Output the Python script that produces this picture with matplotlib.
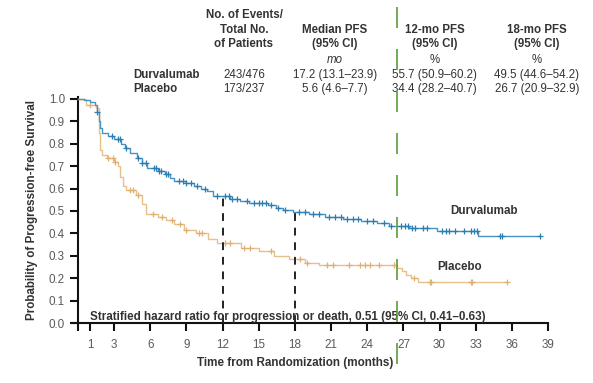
import numpy as np
import matplotlib
matplotlib.use("Agg")
import matplotlib.pyplot as plt
from matplotlib.lines import Line2D

plt.rcParams['font.family'] = ['Liberation Sans', 'DejaVu Sans']

# ---------------- data ----------------
durva_times = [0, 0.5, 1.0, 1.4, 1.6, 1.75, 1.85, 2.0, 2.5, 3.0, 3.6, 3.9, 4.3, 4.9, 5.3, 5.7,
               6.6, 7.2, 7.6, 8.0, 9.0, 9.6, 10.2, 10.7, 11.2, 12.6, 13.4, 14.2, 15.8, 16.4,
               17.0, 17.8, 19.2, 20.5, 22.0, 23.5, 24.8, 25.8, 27.5, 29.8, 33.2]
durva_surv = [1.0, 0.995, 0.985, 0.975, 0.94, 0.90, 0.87, 0.85, 0.835, 0.82, 0.80, 0.78, 0.76,
              0.735, 0.715, 0.69, 0.68, 0.665, 0.645, 0.632, 0.625, 0.61, 0.60, 0.59, 0.565,
              0.555, 0.545, 0.535, 0.525, 0.515, 0.505, 0.495, 0.485, 0.475, 0.466, 0.455,
              0.445, 0.435, 0.425, 0.41, 0.388]
durva_end = 38.3
durva_censor = [1.6, 2.8, 3.3, 3.5, 4.0, 5.0, 5.3, 5.6, 6.3, 6.5, 6.7, 6.9, 7.3, 7.5, 8.4, 8.7,
                9.0, 9.4, 9.9, 10.5, 11.5, 12.2, 12.5, 12.8, 13.2, 14.0, 14.6, 15.0, 15.3, 15.6,
                16.0, 16.6, 17.2, 18.3, 18.8, 19.5, 20.0, 20.8, 21.3, 21.8, 22.3, 22.8, 23.2,
                24.0, 24.5, 25.4, 26.0, 26.8, 27.1, 27.4, 27.7, 28.0, 28.6, 29.0, 30.2, 30.5,
                30.8, 31.3, 32.0, 32.6, 32.9, 33.1, 35.0, 35.2, 38.3]

plac_times = [0, 0.7, 1.5, 1.7, 1.8, 2.0, 2.4, 3.0, 3.3, 3.5, 3.7, 4.0, 4.8, 5.3, 5.6, 6.6, 7.3,
              8.0, 8.8, 9.8, 10.8, 11.5, 13.5, 15.0, 16.3, 17.5, 18.8, 20.0, 26.5, 26.9, 27.2,
              27.6, 28.2]
plac_surv = [1.0, 0.975, 0.96, 0.85, 0.77, 0.75, 0.735, 0.72, 0.70, 0.65, 0.61, 0.595, 0.57,
             0.53, 0.485, 0.475, 0.46, 0.44, 0.415, 0.40, 0.375, 0.355, 0.335, 0.32, 0.30,
             0.285, 0.27, 0.26, 0.245, 0.23, 0.215, 0.20, 0.185]
plac_end = 35.6
plac_censor = [1.0, 2.5, 2.9, 3.1, 4.3, 4.6, 5.0, 6.2, 7.0, 7.8, 8.5, 9.0, 10.0, 10.3, 12.2,
               12.6, 13.8, 14.3, 16.0, 18.4, 19.0, 20.7, 21.2, 22.5, 23.4, 23.8, 24.2, 25.0,
               26.2, 27.9, 29.2, 29.3, 32.6, 32.7, 35.6]

landmarks = [12, 18]
landmark_surv = [0.557, 0.495]

x_ticks = [0, 1, 3, 6, 9, 12, 15, 18, 21, 24, 27, 30, 33, 36, 39]
x_ticklabels = ['', '1', '3', '6', '9', '12', '15', '18', '21', '24', '27', '30', '33', '36', '39']
y_ticks = [0.0, 0.1, 0.2, 0.3, 0.4, 0.5, 0.6, 0.7, 0.8, 0.9, 1.0]

groups = ['Durvalumab', 'Placebo']
events = ['243/476', '173/237']
median_pfs = ['17.2 (13.1\u201323.9)', '5.6 (4.6\u20137.7)']
pfs12 = ['55.7 (50.9\u201360.2)', '34.4 (28.2\u201340.7)']
pfs18 = ['49.5 (44.6\u201354.2)', '26.7 (20.9\u201332.9)']

# ---------------- figure ----------------
W, H = 593, 383
fig = plt.figure(figsize=(W / 100, H / 100), dpi=100)

x0_px, xend_px = 72, 548
ybot_px, ytop_px = 323, 96.7
ax = fig.add_axes([x0_px / W, 1 - ybot_px / H, (xend_px - x0_px) / W, (ybot_px - ytop_px) / H])
ax.set_xlim(-0.5, 39)
ax.set_ylim(0, 1.01)

blue = '#4793c3'
blue_dark = '#2e7db0'
tan = '#e8c08b'
tan_dark = '#e0b073'

def step_vals(times, surv, t):
    times = np.asarray(times)
    idx = np.searchsorted(times, t, side='right') - 1
    return np.asarray(surv)[idx]

for times, surv, end, cens, c, cd, z in [
        (durva_times, durva_surv, durva_end, durva_censor, blue, blue_dark, 4),
        (plac_times, plac_surv, plac_end, plac_censor, tan, tan_dark, 3)]:
    tt = list(times) + [end]
    ss = list(surv) + [surv[-1]]
    ax.step(tt, ss, where='post', color=c, lw=1.0, zorder=z)
    ax.plot(cens, step_vals(times, surv, np.asarray(cens)), linestyle='none', marker='+',
            ms=5, mew=0.9, color=cd, zorder=z)

for t, s in zip(landmarks, landmark_surv):
    ax.plot([t, t], [0, s], color='#222222', lw=1.4, dashes=(4, 3.5), zorder=5)

for side in ['top', 'right']:
    ax.spines[side].set_visible(False)
ax.spines['left'].set_position(('data', 0))
for side in ['left', 'bottom']:
    ax.spines[side].set_linewidth(1.5)
    ax.spines[side].set_color('#111111')

ax.set_xticks(x_ticks)
ax.set_xticklabels(x_ticklabels)
ax.set_yticks(y_ticks)
ax.set_yticklabels([f'{v:.1f}' for v in y_ticks])
ax.tick_params(axis='both', direction='out', length=5.5, width=1.5, color='#111111',
               labelsize=8.4, labelcolor='#5a5a5a', pad=4)
ax.tick_params(axis='x', pad=6)

ax.set_ylabel('Probability of Progression-free Survival', fontsize=8.4, fontweight='bold',
              color='#333333')
ax.yaxis.set_label_coords(-0.071, 0.5)

fig.text(295 / W, 1 - 363 / H, 'Time from Randomization (months)', ha='center', va='center',
         fontsize=8.4, fontweight='bold', color='#333333')

ax.text(1.0, 0.025, 'Stratified hazard ratio for progression or death, 0.51 (95% CI, 0.41\u20130.63)',
        ha='left', va='center', fontsize=8.4, fontweight='bold', color='#333333', zorder=6)

ax.text(33.7, 0.5, 'Durvalumab', ha='center', va='center', fontsize=8.4, fontweight='bold',
        color='#333333')
ax.text(31.7, 0.25, 'Placebo', ha='center', va='center', fontsize=8.4, fontweight='bold',
        color='#333333')

# ---------------- table ----------------
tc = '#333333'
fs = 8.3
def ft(xp, yp, s, **kw):
    fig.text(xp / W, 1 - yp / H, s, ha=kw.pop('ha', 'center'), va='center', fontsize=fs,
             color=tc, **kw)

ft(244, 15, 'No. of Events/', fontweight='bold')
ft(244, 30, 'Total No.', fontweight='bold')
ft(244, 44, 'of Patients', fontweight='bold')
ft(335, 30, 'Median PFS', fontweight='bold')
ft(335, 44, '(95% CI)', fontweight='bold')
ft(435, 30, '12-mo PFS', fontweight='bold')
ft(435, 44, '(95% CI)', fontweight='bold')
ft(537, 30, '18-mo PFS', fontweight='bold')
ft(537, 44, '(95% CI)', fontweight='bold')
ft(335, 60, 'mo', style='italic')
ft(435, 60, '%')
ft(537, 60, '%')
for i, g in enumerate(groups):
    yp = 75 + 14 * i
    ft(133, yp, g, ha='left', fontweight='bold')
    ft(244, yp, events[i])
    ft(335, yp, median_pfs[i])
    ft(434, yp, pfs12[i])
    ft(537, yp, pfs18[i])

# green dashed marker line spanning the figure
gl = Line2D([397 / W, 397 / W], [1 - 7 / H, 1 - 378 / H], transform=fig.transFigure,
            color='#5a9e3a', lw=1.2, dashes=(12.6, 12.6), zorder=10)
fig.add_artist(gl)

fig.savefig('out.png', dpi=100)
